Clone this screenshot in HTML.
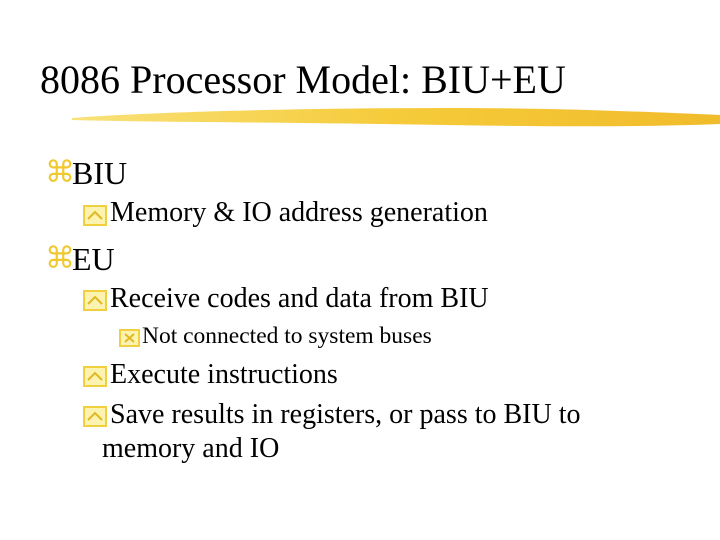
<!DOCTYPE html>
<html><head><style>
body{margin:0;width:720px;height:540px;background:#fff;position:relative;overflow:hidden;font-family:"Liberation Serif",serif;color:#000}
.t{position:absolute;white-space:nowrap;line-height:1}
.yb{display:inline-block;position:absolute;border:2px solid #f0d040;background:#fdf3b0;box-sizing:border-box}
</style></head><body>
<div class="t" style="left:40px;top:60px;font-size:40px">8086 Processor Model: BIU+EU</div>
<svg style="position:absolute;left:0;top:0" width="720" height="140">
<defs><linearGradient id="g" x1="0" x2="1"><stop offset="0" stop-color="#f8e070"/><stop offset="0.5" stop-color="#f5c830"/><stop offset="1" stop-color="#f0b820"/></linearGradient></defs>
<path d="M72,118 C150,112 300,108 450,108 C560,108 650,112 720,115 L720,124 C620,128 500,126 380,124 C250,122 150,122 72,120 Z" fill="url(#g)" opacity="0.95"/>
</svg>
<div class="t" style="left:45px;top:158px;font-size:30px;color:#f0c830">⌘</div>
<div class="t" style="left:72px;top:157px;font-size:32px">BIU</div>
<div class="yb" style="left:83px;top:205px;width:24px;height:21px"><svg width="20" height="17" style="position:absolute;left:0;top:0"><path d="M3,12 L10,5 L17,12" stroke="#e0b820" stroke-width="2" fill="none"/></svg></div>
<div class="t" style="left:110px;top:199px;font-size:28px">Memory &amp; IO address generation</div>
<div class="t" style="left:45px;top:244px;font-size:30px;color:#f0c830">⌘</div>
<div class="t" style="left:72px;top:243px;font-size:32px">EU</div>
<div class="yb" style="left:83px;top:290px;width:24px;height:21px"><svg width="20" height="17" style="position:absolute;left:0;top:0"><path d="M3,12 L10,5 L17,12" stroke="#e0b820" stroke-width="2" fill="none"/></svg></div>
<div class="t" style="left:110px;top:285px;font-size:28px">Receive codes and data from BIU</div>
<div class="yb" style="left:119px;top:329px;width:21px;height:18px"><svg width="17" height="14" style="position:absolute;left:0;top:0"><path d="M4,3 L13,11 M13,3 L4,11" stroke="#e0b820" stroke-width="2"/></svg></div>
<div class="t" style="left:142px;top:325px;font-size:23.5px">Not connected to system buses</div>
<div class="yb" style="left:83px;top:366px;width:24px;height:21px"><svg width="20" height="17" style="position:absolute;left:0;top:0"><path d="M3,12 L10,5 L17,12" stroke="#e0b820" stroke-width="2" fill="none"/></svg></div>
<div class="t" style="left:110px;top:361px;font-size:28px">Execute instructions</div>
<div class="yb" style="left:83px;top:406px;width:24px;height:21px"><svg width="20" height="17" style="position:absolute;left:0;top:0"><path d="M3,12 L10,5 L17,12" stroke="#e0b820" stroke-width="2" fill="none"/></svg></div>
<div class="t" style="left:110px;top:401px;font-size:28px">Save results in registers, or pass to BIU to</div>
<div class="t" style="left:102px;top:435px;font-size:28px">memory and IO</div>
</body></html>
